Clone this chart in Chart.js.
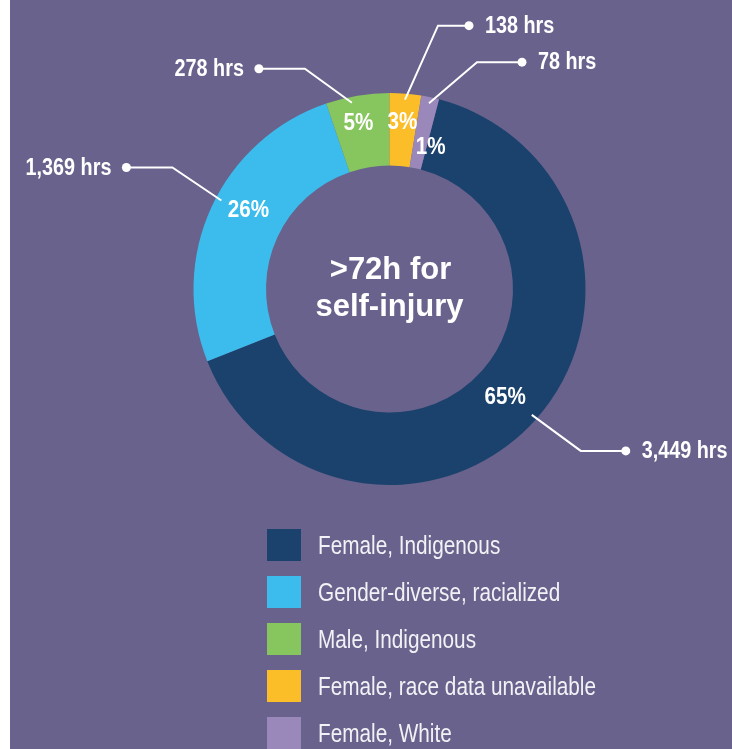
<!DOCTYPE html>
<html>
<head>
<meta charset="utf-8">
<script src="https://cdn.jsdelivr.net/npm/chart.js@4.4.1/dist/chart.umd.min.js"></script>
<style>
  body { margin: 0; background: #ffffff; }
  #wrap { position: absolute; left: 10px; top: 0; width: 722px; height: 749px; background: #69628c; }
</style>
</head>
<body>
<div id="wrap"><canvas id="chart" width="722" height="749"></canvas></div>
<script>
const labels = ['Female, Indigenous', 'Gender-diverse, racialized', 'Male, Indigenous', 'Female, race data unavailable', 'Female, White'];
const hours = [3449, 1369, 278, 138, 78];
const colors = ['#1b426c', '#3bbcec', '#87c55f', '#fbbe28', '#9b88ba'];
const centerText = ['>72h for', 'self-injury'];

// callout leg for each slice: [angle nudge (deg), elbow dx, elbow dy, dot dx]
const callouts = [
    [0, 49, 36, 45],
    [3, -49, -33, -46],
    [-2, -47, -34, -46],
    [0, 33, -74, 31],
    [0, 48, -41, 45]
];
// small shifts so the % labels sit like in the original
const pctNudge = [[-4, 3], [4, -12], [-5, -8], [0, -7], [8, 15]];

const total = hours.reduce((a, b) => a + b, 0);
// green slice ends right at 12 o'clock
const rotation = (hours[3] + hours[4]) / total * 360;

const FONT = '"Liberation Sans", Arial, sans-serif';
const toRad = d => d * Math.PI / 180;

// the original uses a condensed face, so squeeze the text sideways
function narrowText(ctx, txt, x, y, squeeze)
{
    ctx.save();
    ctx.translate(x, y);
    ctx.scale(squeeze, 1);
    ctx.fillText(txt, 0, 0);
    ctx.restore();
}

const labelPlugin = {
    id: 'labels',
    afterDatasetsDraw(chart)
    {
        const ctx = chart.ctx;
        const arcs = chart.getDatasetMeta(0).data;
        ctx.save();
        ctx.fillStyle = '#ffffff';
        ctx.strokeStyle = '#ffffff';
        ctx.lineWidth = 2;

        arcs.forEach((arc, i) =>
        {
            const { x, y, startAngle, endAngle, innerRadius, outerRadius } = arc;
            const mid = (startAngle + endAngle) / 2;

            // percent inside the ring
            const rm = (innerRadius + outerRadius) / 2;
            const pct = Math.round(hours[i] / total * 100) + '%';
            ctx.font = 'bold 24px ' + FONT;
            ctx.textAlign = 'center';
            ctx.textBaseline = 'middle';
            narrowText(ctx, pct, x + rm * Math.cos(mid) + pctNudge[i][0], y + rm * Math.sin(mid) + pctNudge[i][1], 0.86);

            // callout line with dot and hours
            const [nudge, ex, ey, dx] = callouts[i];
            const a = mid + toRad(nudge);
            const sx = x + (outerRadius - 6) * Math.cos(a);
            const sy = y + (outerRadius - 6) * Math.sin(a);
            const kx = sx + ex, ky = sy + ey;
            const px = kx + dx;
            ctx.beginPath();
            ctx.moveTo(sx, sy);
            ctx.lineTo(kx, ky);
            ctx.lineTo(px, ky);
            ctx.stroke();
            ctx.beginPath();
            ctx.arc(px, ky, 4.5, 0, Math.PI * 2);
            ctx.fill();

            const txt = hours[i].toLocaleString('en-US') + ' hrs';
            ctx.font = 'bold 23px ' + FONT;
            ctx.textAlign = dx < 0 ? 'right' : 'left';
            narrowText(ctx, txt, px + (dx < 0 ? -15 : 16), ky + 1, 0.86);
        });

        // centre title
        const cx = arcs[0].x, cy = arcs[0].y;
        ctx.font = 'bold 31px ' + FONT;
        ctx.textAlign = 'center';
        ctx.textBaseline = 'alphabetic';
        ctx.fillText(centerText[0], cx + 1, cy - 10);
        ctx.fillText(centerText[1], cx, cy + 27);

        // legend, one item per row below the ring
        const area = chart.chartArea;
        ctx.font = '25px ' + FONT;
        ctx.textAlign = 'left';
        ctx.textBaseline = 'middle';
        labels.forEach((lab, i) =>
        {
            const rowY = area.bottom + 60 + i * 47;
            ctx.fillStyle = colors[i];
            ctx.fillRect(cx - 122.5, rowY - 16, 34, 32);
            ctx.fillStyle = '#f2f2f6';
            narrowText(ctx, lab, cx - 71.5, rowY + 2, 0.83);
        });
        ctx.restore();
    }
};

new Chart(document.getElementById('chart'), {
    type: 'doughnut',
    data: {
        labels: labels,
        datasets: [{
            data: hours,
            backgroundColor: colors,
            borderWidth: 0
        }]
    },
    options: {
        responsive: false,
        animation: false,
        rotation: rotation,
        cutout: '63%',
        layout: {
            padding: { left: 183.5, right: 146.5, top: 93, bottom: 264 }
        },
        plugins: {
            legend: { display: false },
            tooltip: { enabled: false }
        }
    },
    plugins: [labelPlugin]
});
</script>
</body>
</html>
